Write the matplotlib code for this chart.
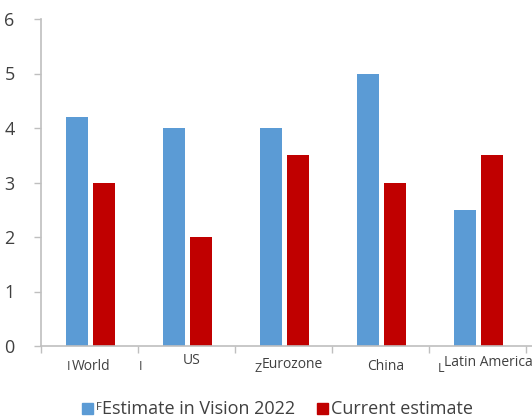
import numpy as np
import matplotlib.pyplot as plt
from matplotlib.patches import Rectangle

plt.rcParams['font.family'] = ['Open Sans', 'DejaVu Sans']

# GDP growth estimates by region
regions = ['World', 'US', 'Eurozone', 'China', 'Latin America']
vision_2022 = [4.2, 4.0, 4.0, 5.0, 2.5]
current = [3.0, 2.0, 3.5, 3.0, 3.5]
series_names = ['Estimate in Vision 2022', 'Current estimate']

BLUE = '#5B9BD5'
RED = '#C00000'
GREY = '#BFBFBF'
TEXT = '#404040'

W, H = 532, 420
fig = plt.figure(figsize=(W / 100, H / 100), dpi=100)
ax = fig.add_axes([41 / W, 1 - 346 / H, (532 - 41) / W, (346 - 19) / H])

x = np.arange(len(regions))
bw = 0.23
gap = 0.05
ax.bar(x - (bw + gap) / 2 + 0.01, vision_2022, bw, color=BLUE, label=series_names[0])
ax.bar(x + (bw + gap) / 2 + 0.01, current, bw, color=RED, label=series_names[1])

ax.set_ylim(0, 6)
ax.set_xlim(-0.5, 4.5 + 6 / 97)
ax.set_yticks(range(7))
ax.tick_params(axis='y', length=5, width=1, color=GREY, labelsize=13,
               labelcolor=TEXT, pad=14)
for s in ['top', 'right']:
    ax.spines[s].set_visible(False)
for s in ['left', 'bottom']:
    ax.spines[s].set_color(GREY)
    ax.spines[s].set_linewidth(1.2)

# tick marks sit between the category groups
ax.set_xticks(np.arange(len(regions) + 1) - 0.5)
ax.set_xticklabels([])
ax.tick_params(axis='x', length=5, width=1, color=GREY)

# category labels, slightly staggered
label_pos = [(91, 367), (192, 361), (292, 364), (386, 367), (488, 362)]
for name, (px, py) in zip(regions, label_pos):
    fig.text(px / W, 1 - py / H, name, ha='center', va='center',
             fontsize=10, color=TEXT)
for ch, (px, py) in zip(['I', 'I', 'Z', 'L'],
                        [(69, 367), (141, 367), (258, 368), (441, 368)]):
    fig.text(px / W, 1 - py / H, ch, ha='center', va='center',
             fontsize=9, color=TEXT)

# legend along the bottom
fig.patches.append(Rectangle((82 / W, 1 - 414 / H), 11 / W, 11 / H,
                             transform=fig.transFigure, color=BLUE))
fig.text(95.5 / W, 1 - 408 / H, 'F', ha='left', va='center', fontsize=8, color=TEXT)
fig.text(102 / W, 1 - 409 / H, series_names[0], ha='left', va='center',
         fontsize=13, color=TEXT)
fig.patches.append(Rectangle((317 / W, 1 - 414 / H), 11 / W, 11 / H,
                             transform=fig.transFigure, color=RED))
fig.text(331 / W, 1 - 409 / H, series_names[1], ha='left', va='center',
         fontsize=13, color=TEXT)

fig.savefig('out.png', dpi=100)
